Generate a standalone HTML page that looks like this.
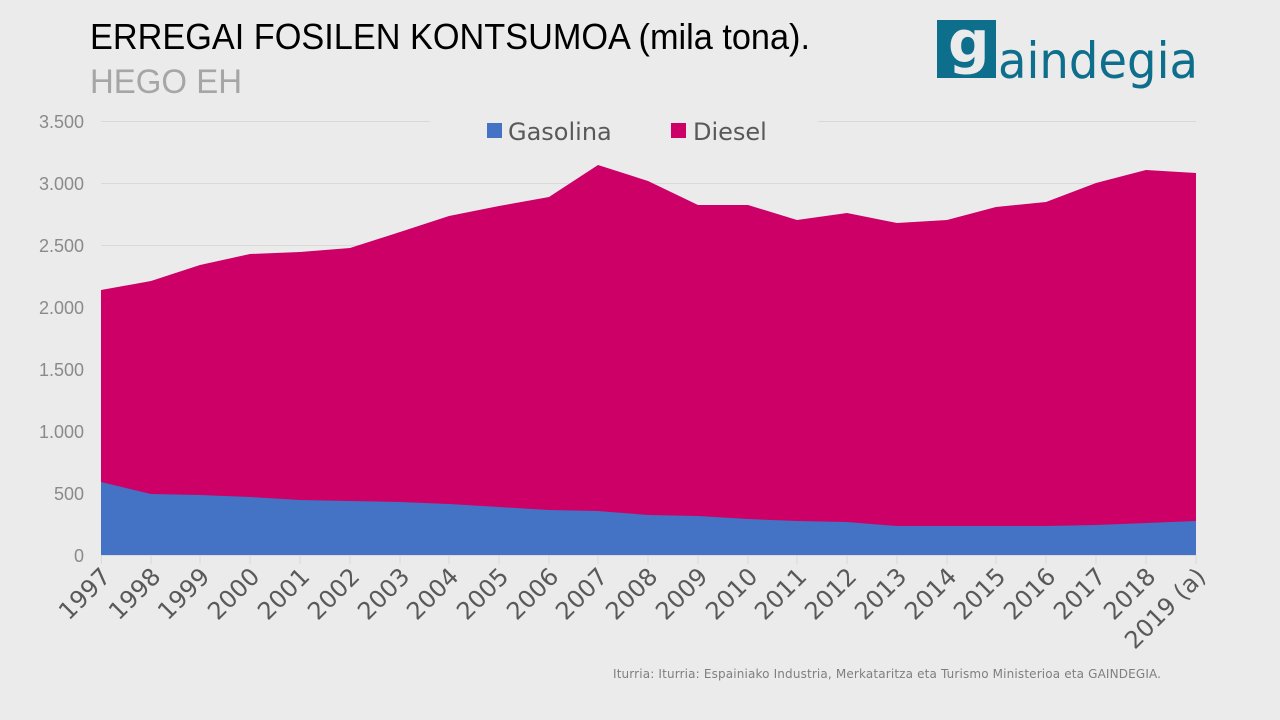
<!DOCTYPE html>
<html><head><meta charset="utf-8"><style>
body{margin:0;background:#ebebeb;width:1280px;height:720px;overflow:hidden;font-family:"DejaVu Sans","Liberation Sans",sans-serif}
</style></head><body>
<svg width="1280" height="720" xmlns="http://www.w3.org/2000/svg" style="position:absolute;left:0;top:0">
<rect width="1280" height="720" fill="#ebebeb"/>
<text x="90" y="49" font-family="Liberation Sans, sans-serif" font-size="36" fill="#000" textLength="720" lengthAdjust="spacingAndGlyphs">ERREGAI FOSILEN KONTSUMOA (mila tona).</text>
<text x="90" y="93" font-family="Liberation Sans, sans-serif" font-size="34" fill="#a6a6a6" textLength="152" lengthAdjust="spacingAndGlyphs">HEGO EH</text>
<rect x="937" y="20" width="59" height="58" fill="#0e6f8c"/>
<text x="948" y="62" font-family="DejaVu Sans, sans-serif" font-size="58" fill="#ebebeb" font-weight="bold">g</text>
<text x="998" y="78" font-family="DejaVu Sans, sans-serif" font-size="50" fill="#0e6f8c" textLength="200" lengthAdjust="spacingAndGlyphs">aindegia</text>
<g stroke="#d9d9d9" stroke-width="1">
<line x1="101" x2="430" y1="121.5" y2="121.5"/><line x1="818" x2="1196" y1="121.5" y2="121.5"/>
<line x1="101" x2="1196" y1="183.5" y2="183.5"/><line x1="101" x2="1196" y1="245.5" y2="245.5"/>
<line x1="101" x2="1196" y1="307.5" y2="307.5"/><line x1="101" x2="1196" y1="369.5" y2="369.5"/>
<line x1="101" x2="1196" y1="431.5" y2="431.5"/><line x1="101" x2="1196" y1="493.5" y2="493.5"/>
</g>
<g font-size="18" fill="#8a8a8a" text-anchor="end" font-family="Liberation Sans, sans-serif">
<text x="84" y="128">3.500</text><text x="84" y="190">3.000</text><text x="84" y="252">2.500</text>
<text x="84" y="314">2.000</text><text x="84" y="376">1.500</text><text x="84" y="438">1.000</text>
<text x="84" y="500">500</text><text x="84" y="562">0</text>
</g>
<polygon fill="#cc0066" points="101,290 151,281 200,265 250,254 300,252 350,248 400,232 449,216 499,206 549,197 598,165 648,181 698,205 748,205 797,220 847,213 897,223 947,220 996,207 1046,202 1096,183 1146,170 1196,173 1196,555 101,555"/>
<polygon fill="#4472c4" points="101,482 151,494 200,495 250,497 300,500 350,501 400,502 449,504 499,507 549,510 598,511 648,515 698,516 748,519 797,521 847,522 897,526 947,526 996,526 1046,526 1096,525 1146,523 1196,521 1196,555 101,555"/>
<line x1="101" x2="1196" y1="555.5" y2="555.5" stroke="#d9d9d9"/>
<g stroke="#d9d9d9">
<line x1="101.5" x2="101.5" y1="555" y2="564"/><line x1="151" x2="151" y1="555" y2="564"/><line x1="200" x2="200" y1="555" y2="564"/><line x1="250" x2="250" y1="555" y2="564"/><line x1="300" x2="300" y1="555" y2="564"/><line x1="350" x2="350" y1="555" y2="564"/><line x1="400" x2="400" y1="555" y2="564"/><line x1="449" x2="449" y1="555" y2="564"/><line x1="499" x2="499" y1="555" y2="564"/><line x1="549" x2="549" y1="555" y2="564"/><line x1="598" x2="598" y1="555" y2="564"/><line x1="648" x2="648" y1="555" y2="564"/><line x1="698" x2="698" y1="555" y2="564"/><line x1="748" x2="748" y1="555" y2="564"/><line x1="797" x2="797" y1="555" y2="564"/><line x1="847" x2="847" y1="555" y2="564"/><line x1="897" x2="897" y1="555" y2="564"/><line x1="947" x2="947" y1="555" y2="564"/><line x1="996" x2="996" y1="555" y2="564"/><line x1="1046" x2="1046" y1="555" y2="564"/><line x1="1096" x2="1096" y1="555" y2="564"/><line x1="1146" x2="1146" y1="555" y2="564"/><line x1="1196" x2="1196" y1="555" y2="564"/>
</g>
<g font-size="24" fill="#595959" text-anchor="end">
<text transform="translate(112,578) rotate(-45)">1997</text>
<text transform="translate(162,578) rotate(-45)">1998</text>
<text transform="translate(211,578) rotate(-45)">1999</text>
<text transform="translate(261,578) rotate(-45)">2000</text>
<text transform="translate(311,578) rotate(-45)">2001</text>
<text transform="translate(361,578) rotate(-45)">2002</text>
<text transform="translate(411,578) rotate(-45)">2003</text>
<text transform="translate(460,578) rotate(-45)">2004</text>
<text transform="translate(510,578) rotate(-45)">2005</text>
<text transform="translate(560,578) rotate(-45)">2006</text>
<text transform="translate(609,578) rotate(-45)">2007</text>
<text transform="translate(659,578) rotate(-45)">2008</text>
<text transform="translate(709,578) rotate(-45)">2009</text>
<text transform="translate(759,578) rotate(-45)">2010</text>
<text transform="translate(808,578) rotate(-45)">2011</text>
<text transform="translate(858,578) rotate(-45)">2012</text>
<text transform="translate(908,578) rotate(-45)">2013</text>
<text transform="translate(958,578) rotate(-45)">2014</text>
<text transform="translate(1007,578) rotate(-45)">2015</text>
<text transform="translate(1057,578) rotate(-45)">2016</text>
<text transform="translate(1107,578) rotate(-45)">2017</text>
<text transform="translate(1157,578) rotate(-45)">2018</text>
<text transform="translate(1207,578) rotate(-45)">2019 (a)</text>
</g>
<rect x="487" y="123" width="15" height="15" fill="#4472c4"/>
<text x="508" y="140" font-size="24" fill="#595959">Gasolina</text>
<rect x="671" y="123" width="15" height="15" fill="#cc0066"/>
<text x="693" y="140" font-size="24" fill="#595959">Diesel</text>
<text x="613" y="678" font-size="12" fill="#7f7f7f" textLength="548" lengthAdjust="spacing">Iturria: Iturria: Espainiako Industria, Merkataritza eta Turismo Ministerioa eta GAINDEGIA.</text>
</svg>
</body></html>
